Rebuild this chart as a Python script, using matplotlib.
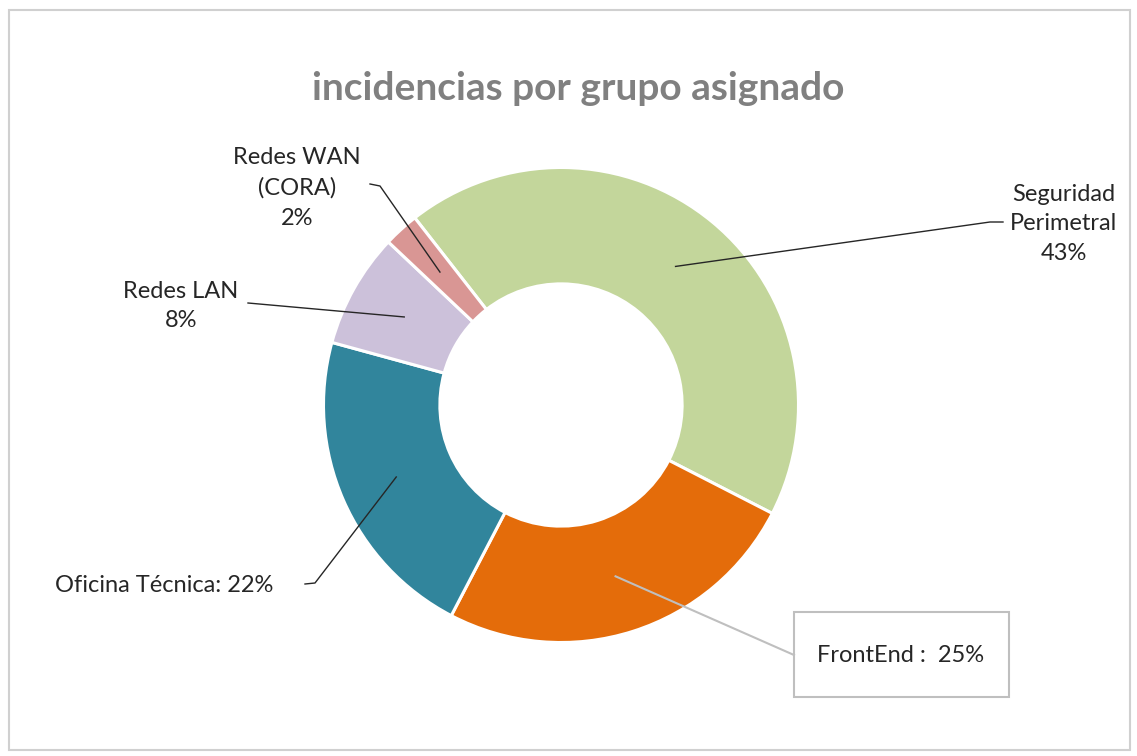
import numpy as np
import matplotlib
matplotlib.use('Agg')
import matplotlib.pyplot as plt
from matplotlib.patches import Rectangle

plt.rcParams['font.family'] = ['Lato', 'DejaVu Sans']

# datos (porcentaje del total)
grupos = ['Seguridad\nPerimetral', 'FrontEnd', 'Oficina Técnica', 'Redes LAN', 'Redes WAN\n(CORA)']
valores = [43.1, 25.1, 21.6, 7.8, 2.4]
colores = ['#C3D69B', '#E46C0A', '#31859C', '#CCC1DA', '#D99694']

W, H = 1137, 756
fig = plt.figure(figsize=(W / 100, H / 100), dpi=100)
ax = fig.add_axes([0, 0, 1, 1])

# centro y radio en pixeles (y hacia arriba)
cx, cy, R = 561, H - 405, 237.5
wedges, _ = ax.pie(valores, colors=colores, startangle=128, counterclock=False,
                   center=(cx, cy), radius=R, frame=True,
                   wedgeprops=dict(width=R * 0.49, edgecolor='white', linewidth=2.2))
ax.set_xlim(0, W)
ax.set_ylim(0, H)
ax.axis('off')

total = sum(valores)
pct = [round(v / total * 100) for v in valores]

def ancla(w):
    ang = np.deg2rad((w.theta1 + w.theta2) / 2)
    r = R * 0.757
    return cx + r * np.cos(ang), cy + r * np.sin(ang)

txt = dict(fontsize=17, color='#262626', linespacing=1.52)
linea = dict(color='#262626', lw=1.0)

# Seguridad Perimetral
x0, y0 = ancla(wedges[0])
ax.plot([x0, 990, 1003], [y0, H - 222, H - 222], **linea)
ax.text(1064, H - 224, f'{grupos[0]}\n{pct[0]}%', ha='center', va='center', **txt)

# FrontEnd (con recuadro)
x0, y0 = ancla(wedges[1])
ax.plot([x0, 794], [y0, H - 655], color='#BFBFBF', lw=1.5)
ax.add_patch(Rectangle((794, H - 697), 215, 85, facecolor='white', edgecolor='#BFBFBF', lw=1.5))
ax.text(901, H - 655, f'{grupos[1]} :  {pct[1]}%', ha='center', va='center', **txt)

# Oficina Técnica
x0, y0 = ancla(wedges[2])
ax.plot([x0, 315, 305], [y0, H - 583, H - 584], **linea)
ax.text(55, H - 585, f'{grupos[2]}: {pct[2]}%', ha='left', va='center', **txt)

# Redes LAN
x0, y0 = ancla(wedges[3])
ax.plot([x0, 248], [y0, H - 303], **linea)
ax.text(181, H - 306, f'{grupos[3]}\n{pct[3]}%', ha='center', va='center', **txt)

# Redes WAN
x0, y0 = ancla(wedges[4])
ax.plot([x0, 380, 370], [y0, H - 186, H - 184], **linea)
ax.text(297, H - 188, f'{grupos[4]}\n{pct[4]}%', ha='center', va='center', **txt)

# titulo
ax.text(578, H - 88, 'incidencias por grupo asignado', ha='center', va='center',
        fontsize=28, fontweight='bold', color='#808080')

# marco del grafico
fig.patches.append(Rectangle((9 / W, 6 / H), 1121 / W, 740 / H, transform=fig.transFigure,
                             fill=False, edgecolor='#D0D0D0', lw=1.5))

fig.savefig('out.png', dpi=100)
